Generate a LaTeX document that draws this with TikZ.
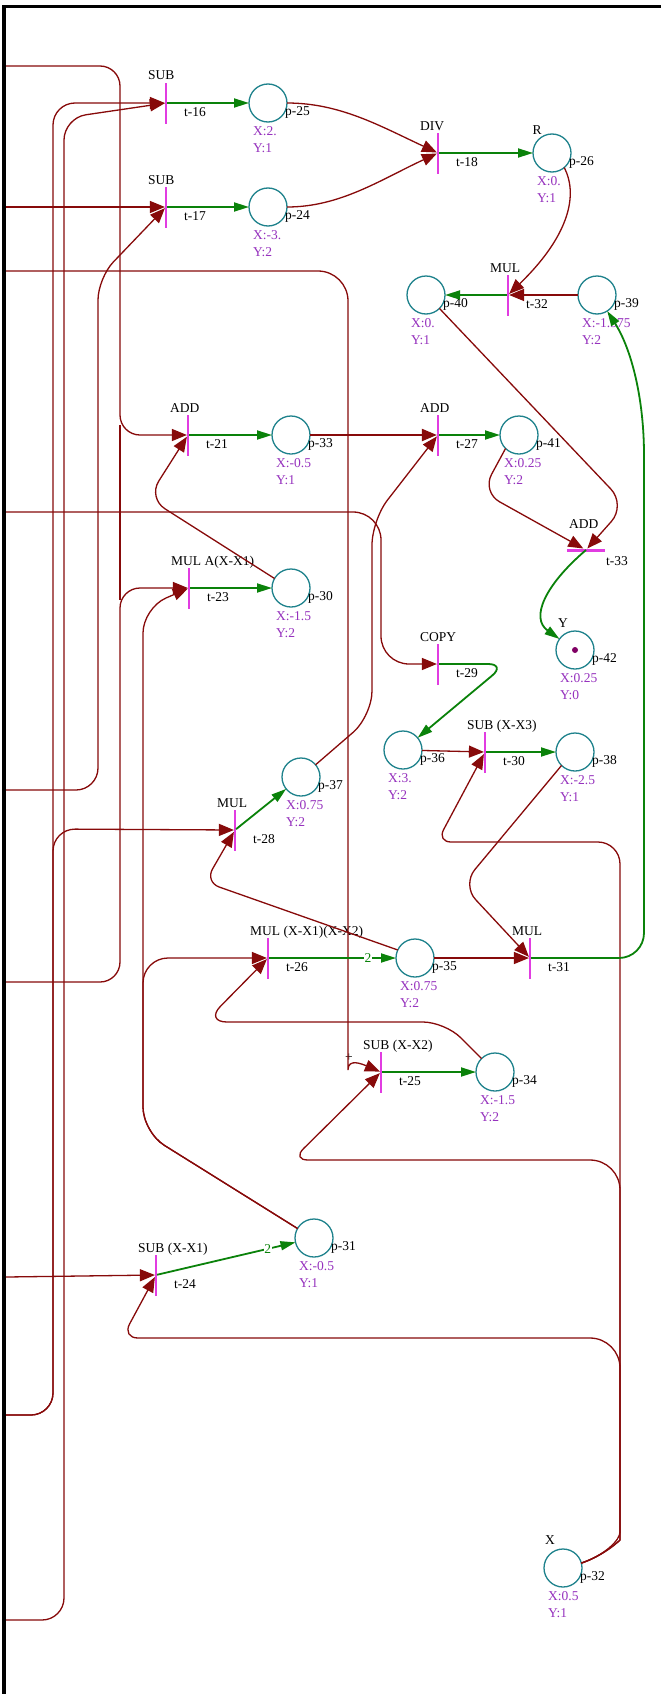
\documentclass[tikz,border=0pt]{standalone}
\usepackage{fontspec}
\setmainfont{Liberation Serif}
\usetikzlibrary{arrows.meta}
\definecolor{arcred}{RGB}{135,10,10}
\definecolor{arcgreen}{RGB}{10,130,10}
\definecolor{placecol}{RGB}{30,130,140}
\definecolor{transcol}{RGB}{225,60,225}
\definecolor{valcol}{RGB}{150,50,190}
\definecolor{tokcol}{RGB}{128,0,100}
\tikzset{
  place/.style={circle, draw=placecol, line width=1.3pt, minimum size=38pt, inner sep=0pt, outer sep=0pt},
  transv/.style={rectangle, fill=transcol, minimum width=2.2pt, minimum height=41pt, inner sep=0pt, outer sep=0pt},
  transh/.style={rectangle, fill=transcol, minimum width=38pt, minimum height=3pt, inner sep=0pt, outer sep=0pt},
  txt/.style={font=\fontsize{13.5}{16}\selectfont, inner sep=0pt, text=black},
  plab/.style={txt, anchor=west},
  tlab/.style={txt, anchor=west},
  toplab/.style={txt, anchor=base west},
  xylab/.style={txt, anchor=west, text=valcol},
  rarc/.style={draw=arcred, line width=1.3pt, -{Triangle[length=15pt,width=12pt]}},
  rline/.style={draw=arcred, line width=1.3pt},
  garc/.style={draw=arcgreen, line width=1.8pt, -{Triangle[length=15pt,width=9pt]}},
  wlab/.style={txt, text=arcgreen, fill=white, inner sep=0.6pt},
}
\newcommand{\mkplace}[6]{%
  \node[place] (#1) at (#2,#3) {};
  \node[plab] (#1l) at ([xshift=17pt,yshift=-9pt]#1.center) {#4};
  \node[xylab] (#1x) at ([xshift=-15pt,yshift=-28pt]#1.center) {X:#5};
  \node[xylab] (#1y) at ([xshift=-15pt,yshift=-45pt]#1.center) {Y:#6};
}
\newcommand{\mktrans}[5]{%
  \node[transv] (#1) at (#2,#3) {};
  \node[toplab] (#1a) at ([xshift=-18pt,yshift=23pt]#1.center) {#4};
  \node[tlab] (#1b) at ([xshift=18pt,yshift=-9pt]#1.center) {#5};
}
\begin{document}
\begin{tikzpicture}[x=1pt,y=-1pt]
\useasboundingbox (0,0) rectangle (661,1694);
\fill[white] (0,0) rectangle (661,1694);
\fill[black] (2,5) rectangle (6,1694);
\fill[black] (2,5) rectangle (661,8);

% places
\mkplace{p25}{268}{103}{p-25}{2.}{1}
\mkplace{p24}{268}{207}{p-24}{-3.}{2}
\mkplace{p26}{552}{153}{p-26}{0.}{1}
\mkplace{p40}{426}{295}{p-40}{0.}{1}
\mkplace{p39}{597}{295}{p-39}{-1.375}{2}
\mkplace{p33}{291}{435}{p-33}{-0.5}{1}
\mkplace{p41}{519}{435}{p-41}{0.25}{2}
\mkplace{p30}{291}{588}{p-30}{-1.5}{2}
\mkplace{p42}{575}{650}{p-42}{0.25}{0}
\mkplace{p36}{403}{750}{p-36}{3.}{2}
\mkplace{p38}{575}{752}{p-38}{-2.5}{1}
\mkplace{p37}{301}{777}{p-37}{0.75}{2}
\mkplace{p35}{415}{958}{p-35}{0.75}{2}
\mkplace{p34}{495}{1072}{p-34}{-1.5}{2}
\mkplace{p31}{314}{1238}{p-31}{-0.5}{1}
\mkplace{p32}{563}{1568}{p-32}{0.5}{1}
\node[txt] (p26n) at (537,130) {R};
\node[txt] (p42n) at (563,623) {Y};
\node[txt] (p32n) at (550,1540) {X};
\node[circle, fill=tokcol, minimum size=6pt, inner sep=0pt] (tok) at (p42.center) {};

% transitions
\mktrans{t16}{166}{103}{SUB}{t-16}
\mktrans{t17}{166}{207}{SUB}{t-17}
\mktrans{t18}{438}{153}{DIV}{t-18}
\mktrans{t21}{188}{435}{ADD}{t-21}
\mktrans{t27}{438}{435}{ADD}{t-27}
\mktrans{t32}{508}{295}{MUL}{t-32}
\mktrans{t23}{189}{588}{MUL A(X-X1)}{t-23}
\mktrans{t29}{438}{664}{COPY}{t-29}
\mktrans{t28}{235}{830}{MUL}{t-28}
\mktrans{t30}{485}{752}{SUB (X-X3)}{t-30}
\mktrans{t26}{268}{958}{MUL (X-X1)(X-X2)}{t-26}
\mktrans{t31}{530}{958}{MUL}{t-31}
\mktrans{t25}{381}{1072}{SUB (X-X2)}{t-25}
\mktrans{t24}{156}{1275}{SUB (X-X1)}{t-24}
\node[transh] (t33) at (586,550) {};
\node[toplab] (t33a) at (569,528) {ADD};
\node[tlab] (t33b) at (606,561) {t-33};
\node[txt] (plus) at (349,1058) {+};

% off-picture sources
\coordinate (in66) at (6,66);
\coordinate (in207) at (6,207);
\coordinate (in271) at (6,271);
\coordinate (in512) at (6,512);
\coordinate (in790) at (6,790);
\coordinate (in982) at (6,982);
\coordinate (in1277) at (6,1277);
\coordinate (in1415) at (6,1415);
\coordinate (in1620) at (6,1620);

% red input arcs
\draw[rarc, rounded corners=20pt] (in66) -| (120,435) -- (t21);
\draw[rarc, rounded corners=20pt] (in982) -| (120,588) -- (t23);
\draw[rline] (120,425) -- (120,600);
\draw[rarc, rounded corners=22pt] (in1415) -| (53,103) -- (t16);
\draw[rarc, rounded corners=22pt] (in1415) -| (53,829) -- (t28);
\draw[rarc, rounded corners=22pt] (in1620) -| (64,118) -- (t16);
\draw[rarc] (in207) -- (t17);
\draw[rarc, rounded corners=22pt] (in790) -| (98,278) -- (t17);
\draw[rarc, rounded corners=30pt] (in271) -| (348,1040) .. controls (348,1058) and (362,1064) .. (t25);
\draw[rarc, rounded corners=28pt] (in512) -| (381,664) -- (t29);
\draw[rarc, rounded corners=10pt] (in1277) -- (t24);

% arcs from X
\draw[rarc, rounded corners=22pt] (p32.15) .. controls (605,1555) and (620,1540) .. (620,1510) -- (620,842) [rounded corners=14pt] -- (437,842) -- (t30);
\draw[rarc, rounded corners=30pt] (p32.15) .. controls (605,1555) and (620,1540) .. (620,1510) -- (620,1160) [rounded corners=16pt] -- (292,1160) -- (t25);
\draw[rarc, rounded corners=30pt] (p32.15) .. controls (605,1555) and (620,1540) .. (620,1510) -- (620,1338) [rounded corners=16pt] -- (122,1338) -- (t24);

% other red arcs
\draw[rarc, rounded corners=15pt] (p35.155) -- (205,882) -- (t28);
\draw[rarc, rounded corners=25pt] (p31.150) -- (143,1132) -- (143,958) -- (t26);
\draw[rarc, rounded corners=25pt] (p31.150) -- (143,1132) -- (143,608) -- (t23);
\draw[rarc, rounded corners=22pt] (p34.135) -- (445,1022) -- (205,1022) -- (t26);
\draw[rarc, rounded corners=20pt] (p30.150) -- (148,498) -- (t21);
\draw[rarc, rounded corners=25pt] (p37.40) -- (372,716) -- (372,520) -- (t27);
\draw[rarc] (p25.east) .. controls (340,103) and (380,126) .. (t18);
\draw[rarc] (p24.east) .. controls (340,207) and (380,180) .. (t18);
\draw[rarc] (p26.-50) .. controls (580,198) and (565,240) .. (t32);
\draw[rarc] (p39) -- (t32);
\draw[rarc, line width=2pt] (p33) -- (t27);
\draw[rarc] (p36) -- (t30);
\draw[rarc] (p35) -- (t31);
\draw[rarc, rounded corners=20pt] (p38.225) -- (462,885) -- (t31);
\draw[rarc, rounded corners=22pt] (p40.-45) -- (626,505) -- (t33);
\draw[rarc, rounded corners=20pt] (p41.225) -- (482,492) -- (t33);

% green output arcs
\draw[garc] (t16) -- (p25);
\draw[garc] (t17) -- (p24);
\draw[garc] (t18) -- (p26);
\draw[garc] (t32) -- (p40);
\draw[garc] (t21) -- (p33);
\draw[garc] (t27) -- (p41);
\draw[garc] (t23) -- (p30);
\draw[garc] (t33.center) .. controls (545,585) and (530,618) .. (p42);
\draw[garc, rounded corners=18pt] (t29) -- (506,664) -- (p36);
\draw[garc] (t30) -- (p38);
\draw[garc] (t28) -- (p37);
\draw[garc] (t26) -- node[wlab, pos=0.78] (w26) {2} (p35);
\draw[garc, rounded corners=25pt] (t31) -- (644,958) -- (644,480) .. controls (644,400) and (632,350) .. (p39);
\draw[garc] (t25) -- (p34);
\draw[garc] (t24) -- node[wlab, pos=0.8] (w24) {2} (p31);
\end{tikzpicture}
\end{document}
